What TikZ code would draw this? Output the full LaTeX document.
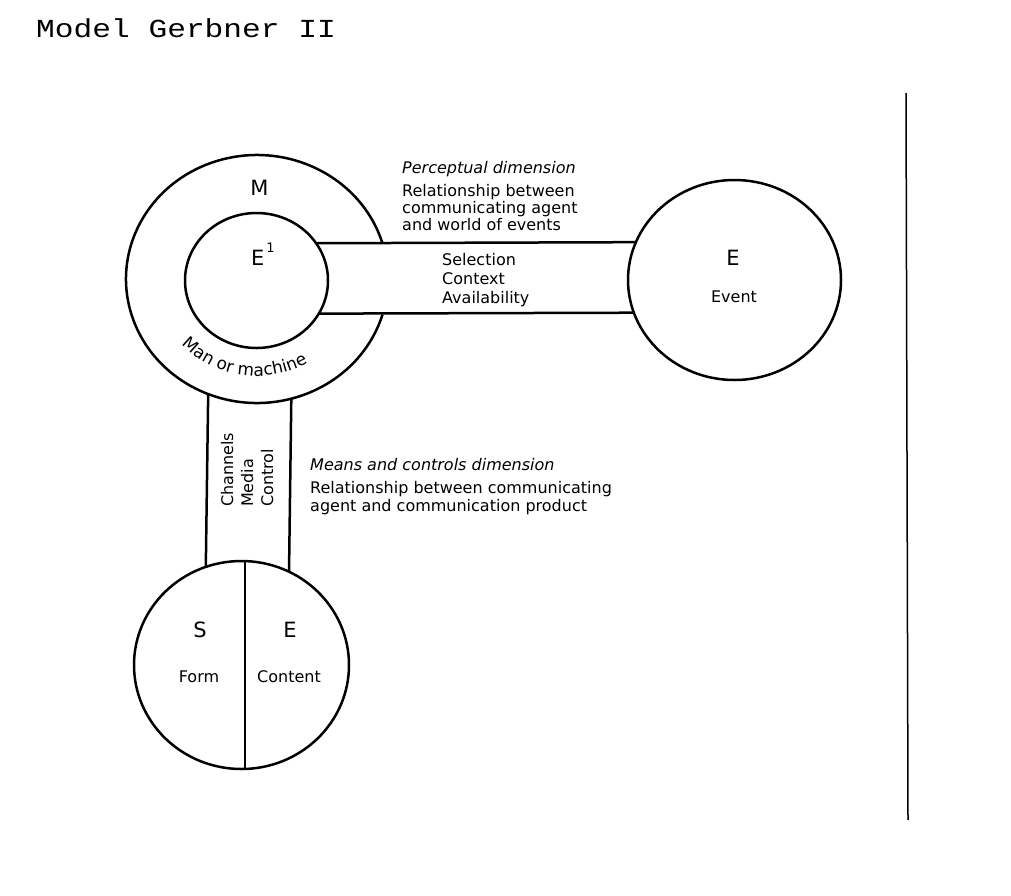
\documentclass[tikz,border=0pt]{standalone}
\usepackage{fontspec}
\usetikzlibrary{shapes.geometric,decorations.text}
\newfontfamily\djf{DejaVu Sans}
\newfontfamily\monof{Liberation Mono}
\newcommand{\smf}{\djf\fontsize{16}{17}\selectfont}
\newcommand{\smitf}{\djf\itshape\fontsize{16}{17}\selectfont}
\newcommand{\lettf}{\djf\fontsize{21}{21}\selectfont}
\newcommand{\titlef}{\monof\fontsize{26}{26}\selectfont}
\begin{document}
\begin{tikzpicture}[x=1pt,y=1pt,
  ring/.style={ellipse, draw, line width=2.5pt, inner sep=0pt, outer sep=0pt},
  lbl/.style={font=\smf, inner sep=0pt, anchor=base west, align=left},
  letter/.style={font=\lettf, inner sep=0pt, anchor=base},
  rule/.style={line width=2.5pt}]
\useasboundingbox (0,0) rectangle (1011,-895);

% title
\node[font=\titlef, anchor=base west, inner sep=0pt, xscale=1.2] (title) at (36,-37) {Model Gerbner II};

% circles
\node[ellipse, inner sep=0pt, outer sep=0pt, minimum width=262pt, minimum height=248pt] (M) at (257,-279) {};
\draw[rule] ([shift={(16.8:131pt and 124pt)}]M.center) arc[start angle=16.8, end angle=343.4, x radius=131pt, y radius=124pt];
\node[ring, minimum width=143pt, minimum height=135pt] (E1) at (256.5,-280.5) {};
\node[ring, minimum width=213pt, minimum height=200pt] (E) at (734.5,-280) {};
\node[ring, minimum width=215pt, minimum height=208pt] (S) at (241.5,-665) {};

% perceptual band
\draw[rule] (E1.32.2) -- (E.159.5);
\draw[rule] (E1.-28.4) -- (E.198.75);

% means band
\draw[rule] (M.247.9) -- (S.110.5);
\draw[rule] (M.286.3) -- (S.63.6);

% divider in S circle
\draw[line width=2.2pt] (S.88.5) -- (S.272);

% letters
\node[letter] (Ml) at (259.5,-195) {M};
\node[letter, anchor=base west] (E1l) at (251,-265) {E\kern2pt\raisebox{12.5pt}{\djf\fontsize{13}{13}\selectfont 1}};
\node[letter] (El) at (733,-265) {E};
\node[lbl, anchor=base] (Ev) at (734,-302) {Event};
\node[letter] (Sl) at (200,-637) {S};
\node[letter] (Cl) at (290,-637) {E};
\node[lbl, anchor=base] (Fo) at (199,-682) {Form};
\node[lbl, anchor=base] (Co) at (289,-682) {Content};

% curved label
\path[decorate, decoration={text along path, text align=center,
  text={|\djf\fontsize{17}{17}\selectfont|Man or machine}}]
  ([shift={(198:102pt and 97pt)}]M.center) arc[start angle=198, end angle=324, x radius=102pt, y radius=97pt];

% perceptual texts (base anchor = last line baseline)
\node[lbl, font=\smitf] (pd) at (402,-173) {Perceptual dimension};
\node[lbl] (pr) at (402,-230) {Relationship between\\communicating agent\\and world of events};
\node[lbl, font=\djf\fontsize{16}{19}\selectfont] (sca) at (442,-303) {Selection\\Context\\Availability};

% means texts
\node[lbl, font=\smitf] (md) at (310,-470) {Means and controls dimension};
\node[lbl, font=\djf\fontsize{16}{18}\selectfont] (mr) at (310,-511) {Relationship between communicating\\agent and communication product};
\node[lbl, rotate=90, font=\djf\fontsize{16}{20}\selectfont] (cmc) at (273,-507) {Channels\\Media\\Control};

% right rule
\coordinate (rt) at (906,-93);
\coordinate (rb) at (908,-820);
\draw[line width=1.5pt] (rt) -- (rb);
\end{tikzpicture}
\end{document}
